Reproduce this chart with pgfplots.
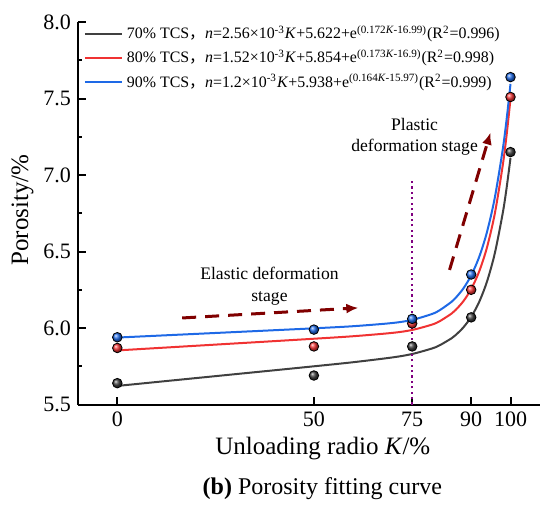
\documentclass[border=0pt]{standalone}
\usepackage{pgfplots}
\pgfplotsset{compat=1.18}
\usepackage{pgfplotstable}
\usepackage{fontspec}
\setmainfont{Liberation Serif}
\newfontfamily\cjk{Noto Sans CJK SC}
\usetikzlibrary{arrows.meta}

\definecolor{cgray}{RGB}{64,64,64}
\definecolor{cred}{RGB}{240,50,50}
\definecolor{cblue}{RGB}{30,105,230}
\definecolor{arrowred}{RGB}{128,0,0}
\definecolor{vpurple}{RGB}{128,0,128}

% measured porosity
\pgfplotstableread{
K n
0 5.64
50 5.69
75 5.88
90 6.07
100 7.15
}\ptsA
\pgfplotstableread{
K n
0 5.87
50 5.88
75 6.03
90 6.25
100 7.51
}\ptsB
\pgfplotstableread{
K n
0 5.94
50 5.99
75 6.06
90 6.35
100 7.64
}\ptsC

% fitted curves n = aK + b + exp(cK - d), tabulated
\pgfplotstableread{
K n
0 5.6220
10 5.6476
20 5.6732
30 5.6988
40 5.7244
50 5.7502
60 5.7769
70 5.8083
75 5.8307
80 5.8664
82 5.8877
85 5.9331
86 5.9532
88 6.0039
90 6.0733
92 6.1691
94 6.3022
96 6.4878
98 6.7475
99 6.9141
100 7.1117
}\fitA
\pgfplotstableread{
K n
0 5.8540
10 5.8692
20 5.8844
30 5.8996
40 5.9148
50 5.9303
60 5.9467
70 5.9687
75 5.9877
80 6.0225
82 6.0449
85 6.0946
86 6.1171
88 6.1749
90 6.2553
92 6.3676
94 6.5252
96 6.7467
98 7.0585
99 7.2593
100 7.4978
}\fitB
\pgfplotstableread{
K n
0 5.9380
10 5.9500
20 5.9620
30 5.9740
40 5.9861
50 5.9984
60 6.0122
70 6.0332
75 6.0535
80 6.0918
82 6.1167
85 6.1713
86 6.1959
88 6.2584
90 6.3442
92 6.4624
94 6.6255
96 6.8509
98 7.1630
99 7.3615
100 7.5953
}\fitC

\begin{document}
\begin{tikzpicture}
\useasboundingbox (-39pt,-51.2pt) rectangle (232.5pt,202.3pt);
\begin{axis}[
  at={(0,0)}, anchor=south west,
  scale only axis,
  width=231pt, height=191.3pt,
  xmin=-10, xmax=107.5,
  ymin=5.5, ymax=8.0,
  axis x line*=bottom, axis y line*=left,
  axis line style={line width=1pt},
  tick align=inside,
  major tick length=4pt, minor tick length=2pt,
  tick style={line width=1pt, black},
  xtick={0,50,75,90,100},
  ytick={5.5,6.0,...,8.0},
  minor y tick num=1,
  /pgf/number format/assume math mode=true,
  xticklabel style={font=\fontsize{11}{12}\selectfont},
  yticklabel style={font=\fontsize{11}{12}\selectfont,
    /pgf/number format/fixed, /pgf/number format/fixed zerofill,
    /pgf/number format/precision=1},
  xlabel={Unloading radio \textit{K}/\%},
  ylabel={Porosity/\%},
  xlabel style={at={(axis description cs:0.530,-0.115)}, anchor=center,
    font=\fontsize{12.5}{14}\selectfont},
  ylabel style={at={(axis description cs:-0.120,0.509)}, rotate=0, anchor=center,
    font=\fontsize{12.5}{14}\selectfont},
  legend cell align=left,
  legend style={at={(axis description cs:0.012,1.0)}, anchor=north west,
    draw=none, fill=none, inner sep=0pt, row sep=0.9pt,
    font=\fontsize{7.95}{9}\selectfont,
    nodes={inner xsep=2pt, inner ysep=1.5pt}},
  legend image code/.code={\draw[#1] (0pt,0pt) -- (18.5pt,0pt);},
  clip=false,
]
\addplot[cgray, line width=1pt, smooth] table[x=K,y=n] {\fitA};
\addlegendentry{70\% TCS{\cjk ，}\textit{n}=2.56×10\textsuperscript{-3}\textit{K}+5.622+e\textsuperscript{(0.172\textit{K}-16.99)}(R\textsuperscript{2}=0.996)}
\addplot[cred, line width=1pt, smooth] table[x=K,y=n] {\fitB};
\addlegendentry{80\% TCS{\cjk ，}\textit{n}=1.52×10\textsuperscript{-3}\textit{K}+5.854+e\textsuperscript{(0.173\textit{K}-16.9)}(R\textsuperscript{2}=0.998)}
\addplot[cblue, line width=1pt, smooth] table[x=K,y=n] {\fitC};
\addlegendentry{90\% TCS{\cjk ，}\textit{n}=1.2×10\textsuperscript{-3}\textit{K}+5.938+e\textsuperscript{(0.164\textit{K}-15.97)}(R\textsuperscript{2}=0.999)}

% boundary between the two stages
\addplot[vpurple, line width=1.1pt, dash pattern=on 1.1pt off 1.6pt, forget plot]
  coordinates {(75,5.5) (75,6.97)};

\addplot[only marks, mark=ball, mark size=2.4pt, ball color=cgray, forget plot] table[x=K,y=n] {\ptsA};
\addplot[only marks, mark=ball, mark size=2.4pt, ball color=cred, forget plot] table[x=K,y=n] {\ptsB};
\addplot[only marks, mark=ball, mark size=2.4pt, ball color=cblue, forget plot] table[x=K,y=n] {\ptsC};

% stage annotations
\draw[arrowred, line width=1.5pt, dash pattern=on 7pt off 4.5pt, -{Latex[length=6pt,width=5pt]}]
  (axis cs:16.5,6.066) -- (axis cs:61.3,6.132);
\draw[arrowred, line width=1.5pt, dash pattern=on 7pt off 4.5pt, -{Latex[length=6pt,width=5pt]}]
  (axis cs:84.5,6.38) -- (axis cs:94.9,7.277);
\node[font=\fontsize{8.8}{11}\selectfont, align=center] at (axis cs:38.7,6.276)
  {Elastic deformation\\stage};
\node[font=\fontsize{8.8}{10.5}\selectfont, align=center] at (axis cs:75.6,7.248)
  {Plastic\\deformation stage};

\node[font=\fontsize{12}{14}\selectfont] at (axis description cs:0.529,-0.2206)
  {\textbf{(b)} Porosity fitting curve};
\end{axis}
\end{tikzpicture}
\end{document}
